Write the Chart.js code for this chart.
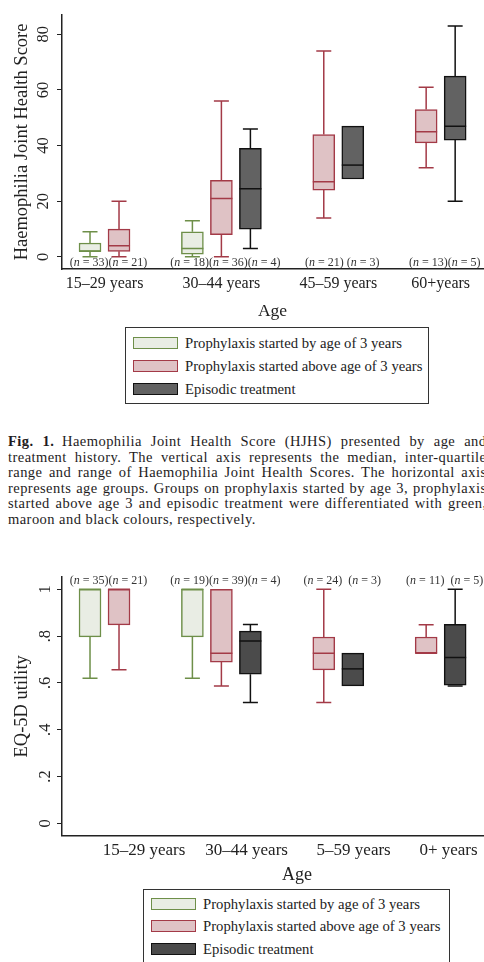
<!DOCTYPE html>
<html>
<head>
<meta charset="utf-8">
<script src="https://cdn.jsdelivr.net/npm/chart.js@4.4.1/dist/chart.umd.min.js"></script>
<style>
  html, body { margin: 0; padding: 0; background: #fff; }
  body { width: 484px; height: 962px; position: relative; overflow: hidden;
         font-family: "Liberation Serif", "Times New Roman", serif; color: #222; }
  .panel { position: absolute; left: 0; }
  .legend { position: absolute; border: 1px solid #333; background: #fff; box-sizing: border-box; }
  .legend .row { position: absolute; display: flex; align-items: center; font-size: 14.7px; white-space: nowrap; color: #222; }
  .legend .sw { width: 45px; height: 12px; box-sizing: border-box; border: 1.5px solid; margin-right: 7px; }
  .caption { position: absolute; left: 8px; top: 434px; width: 478.5px; font-size: 14.5px; letter-spacing: 0.45px;
             line-height: 15.6px; color: #1e1c1d; }
  .caption div { text-align: justify; text-align-last: justify; }
  .caption div.last { text-align-last: left; }
</style>
</head>
<body>
<div class="panel" style="top:0"><canvas id="hjhs" width="484" height="330"></canvas></div>
<div class="legend" id="legend1" style="left:125px;top:327px;width:304px;height:77px"></div>

<div class="caption">
  <div><b>Fig. 1.</b>&ensp;Haemophilia Joint Health Score (HJHS) presented by age and</div>
  <div>treatment history. The vertical axis represents the median, inter-quartile</div>
  <div>range and range of Haemophilia Joint Health Scores. The horizontal axis</div>
  <div>represents age groups. Groups on prophylaxis started by age 3, prophylaxis</div>
  <div>started above age 3 and episodic treatment were differentiated with green,</div>
  <div class="last">maroon and black colours, respectively.</div>
</div>

<div class="panel" style="top:560px"><canvas id="eq5d" width="484" height="330"></canvas></div>
<div class="legend" id="legend2" style="left:143px;top:889px;width:307px;height:82px"></div>

<script>
// ---- categories and series ----
const ageGroups = ['15–29 years', '30–44 years', '45–59 years', '60+years'];
const eqAgeLabels = ['15–29 years', '30–44 years', '5–59 years', '0+ years'];
const seriesNames = [
  'Prophylaxis started by age of 3 years',
  'Prophylaxis started above age of 3 years',
  'Episodic treatment'
];

// HJHS, prophylaxis started by age 3
const hjhsEarlyMin = [0, 0, null, null];
const hjhsEarlyQ1 = [2, 1, null, null];
const hjhsEarlyMedian = [2, 3, null, null];
const hjhsEarlyQ3 = [5, 9, null, null];
const hjhsEarlyMax = [9, 13, null, null];
const hjhsEarlyN = [33, 18, null, null];
// HJHS, prophylaxis started above age 3
const hjhsLateMin = [0, 0, 14, 32];
const hjhsLateQ1 = [2, 8, 24, 41];
const hjhsLateMedian = [4, 21, 27, 45];
const hjhsLateQ3 = [10, 27.5, 44, 53];
const hjhsLateMax = [20, 56, 74, 61];
const hjhsLateN = [21, 36, 21, 13];
// HJHS, episodic treatment
const hjhsEpisodicMin = [null, 3, 28, 20];
const hjhsEpisodicQ1 = [null, 10, 28, 42];
const hjhsEpisodicMedian = [null, 24.5, 33, 47];
const hjhsEpisodicQ3 = [null, 39, 47, 65];
const hjhsEpisodicMax = [null, 46, 47, 83];
const hjhsEpisodicN = [null, 4, 3, 5];
const hjhsTicks = [0, 20, 40, 60, 80];

// EQ-5D utility, prophylaxis started by age 3
const eqEarlyMin = [0.62, 0.62, null, null];
const eqEarlyQ1 = [0.797, 0.797, null, null];
const eqEarlyMedian = [1, 1, null, null];
const eqEarlyQ3 = [1, 1, null, null];
const eqEarlyMax = [1, 1, null, null];
const eqEarlyN = [35, 19, null, null];
// EQ-5D utility, prophylaxis started above age 3
const eqLateMin = [0.656, 0.587, 0.516, 0.727];
const eqLateQ1 = [0.848, 0.689, 0.656, 0.727];
const eqLateMedian = [1, 0.727, 0.727, 0.727];
const eqLateQ3 = [1, 1, 0.796, 0.796];
const eqLateMax = [1, 1, 1, 0.848];
const eqLateN = [21, 39, 24, 11];
// EQ-5D utility, episodic treatment
const eqEpisodicMin = [null, 0.516, 0.587, 0.587];
const eqEpisodicQ1 = [null, 0.637, 0.587, 0.59];
const eqEpisodicMedian = [null, 0.779, 0.66, 0.709];
const eqEpisodicQ3 = [null, 0.821, 0.727, 0.85];
const eqEpisodicMax = [null, 0.85, 0.727, 1];
const eqEpisodicN = [null, 4, 3, 5];
const eqTicks = [0, 0.2, 0.4, 0.6, 0.8, 1];

// ---- styling ----
const FONT = '"Liberation Serif", "Times New Roman", serif';
const INK = '#222';
const boxStyles = [
  { fill: '#e9ede4', line: '#6e8f49' },
  { fill: '#dfc2c5', line: '#a33a47' },
  { fill: '#626262', line: '#111111' }
];
const boxStylesDark = [boxStyles[0], boxStyles[1], { fill: '#4b4b4b', line: '#111111' }];

// ---- box placement: boxes of a group sit side by side, empty series are skipped ----
const GROUP_GAP = 2.53;   // distance between last box of a group and first box of the next
function placeBoxes(q1Lists) {
  const pos = [], centers = [];
  let u = 0;
  for (let g = 0; g < ageGroups.length; g++) {
    const row = [], used = [];
    q1Lists.forEach((list, s) => {
      if (list[g] == null) { row[s] = null; return; }
      row[s] = u; used.push(u); u += 1;
    });
    u = used[used.length - 1] + GROUP_GAP;
    pos.push(row);
    centers.push(used.reduce((a, b) => a + b, 0) / used.length);
  }
  return { pos, centers };
}

function buildDatasets(series, layout, styles) {
  return series.map((s, si) => {
    const data = [];
    s.q1.forEach((q, g) => {
      if (q == null) return;
      data.push({ x: layout.pos[g][si], y: [s.q1[g], s.q3[g]],
                  min: s.min[g], med: s.med[g], max: s.max[g] });
    });
    return {
      label: seriesNames[si], data,
      backgroundColor: styles[si].fill, borderColor: styles[si].line,
      borderWidth: 1.5, borderSkipped: false, barThickness: 22, grouped: false
    };
  });
}

// whiskers, caps and median lines drawn on top of the boxes
const boxWhiskers = {
  id: 'boxWhiskers',
  afterDatasetsDraw(chart) {
    const { ctx } = chart;
    const yScale = chart.scales.y;
    chart.data.datasets.forEach((ds, di) => {
      const meta = chart.getDatasetMeta(di);
      meta.data.forEach((bar, i) => {
        const r = ds.data[i];
        const half = bar.width / 2;
        const capHalf = 7.5;
        const yMin = yScale.getPixelForValue(r.min);
        const yMax = yScale.getPixelForValue(r.max);
        const yQ1 = yScale.getPixelForValue(r.y[0]);
        const yQ3 = yScale.getPixelForValue(r.y[1]);
        const yMed = yScale.getPixelForValue(r.med);
        ctx.save();
        ctx.strokeStyle = ds.borderColor;
        ctx.lineWidth = 1.5;
        ctx.beginPath();
        if (r.max > r.y[1]) {
          ctx.moveTo(bar.x, yQ3); ctx.lineTo(bar.x, yMax);
          ctx.moveTo(bar.x - capHalf, yMax); ctx.lineTo(bar.x + capHalf, yMax);
        }
        if (r.min < r.y[0]) {
          ctx.moveTo(bar.x, yQ1); ctx.lineTo(bar.x, yMin);
          ctx.moveTo(bar.x - capHalf, yMin); ctx.lineTo(bar.x + capHalf, yMin);
        }
        ctx.moveTo(bar.x - half, yMed); ctx.lineTo(bar.x + half, yMed);
        ctx.stroke();
        ctx.restore();
      });
    });
  }
};

// "(n = ..)" group sizes written along one line per group
const groupSizes = {
  id: 'groupSizes',
  afterDraw(chart, args, opts) {
    const { ctx } = chart;
    const xScale = chart.scales.x;
    ctx.save();
    ctx.fillStyle = '#333';
    ctx.textBaseline = 'middle';
    const roman = '12px ' + FONT, italic = 'italic 12px ' + FONT;
    opts.counts.forEach((parts, g) => {
      const pieces = [];
      parts.forEach((n) => {
        if (n == null) return;
        if (pieces.length) pieces.push([opts.seps[g], roman]);
        pieces.push(['(', roman], ['n', italic], [' = ' + n + ')', roman]);
      });
      let total = 0;
      pieces.forEach(p => { ctx.font = p[1]; total += ctx.measureText(p[0]).width; });
      let x = xScale.getPixelForValue(opts.centers[g]) + opts.shift - total / 2;
      pieces.forEach(p => { ctx.font = p[1]; ctx.textAlign = 'left'; ctx.fillText(p[0], x, opts.y); x += ctx.measureText(p[0]).width; });
    });
    ctx.restore();
  }
};

// free-standing axis caption at a given canvas position
const freeCaption = {
  id: 'freeCaption',
  afterDraw(chart, args, opts) {
    if (!opts.text) return;
    const { ctx } = chart;
    ctx.save();
    ctx.font = opts.size + 'px ' + FONT;
    ctx.fillStyle = INK;
    ctx.textAlign = 'center';
    ctx.textBaseline = 'middle';
    ctx.fillText(opts.text, opts.x, opts.y);
    ctx.restore();
  }
};

function makeBoxChart(canvasId, cfg) {
  const layout = cfg.layout;
  return new Chart(document.getElementById(canvasId), {
    type: 'bar',
    data: { datasets: buildDatasets(cfg.series, layout, cfg.styles) },
    plugins: [boxWhiskers, groupSizes, freeCaption],
    options: {
      responsive: false,
      animation: false,
      layout: { padding: { top: cfg.top, right: 1, left: 0, bottom: 0 } },
      plugins: {
        legend: { display: false },
        tooltip: { enabled: false },
        groupSizes: { counts: cfg.counts, centers: layout.centers, y: cfg.countsY, shift: 4, seps: cfg.countSeps },
        freeCaption: cfg.freeTitle || {}
      },
      scales: {
        x: {
          type: 'linear',
          offset: false,
          min: -0.966, max: 13.55,
          afterBuildTicks: s => { s.ticks = cfg.xTickValues.map(v => ({ value: v })); },
          afterFit: s => { s.height = cfg.xAxisHeight; },
          grid: { display: false, drawTicks: false },
          border: { display: true, color: INK, width: 1.5 },
          ticks: {
            autoSkip: false, maxRotation: 0, minRotation: 0, padding: cfg.xTickPad,
            color: INK, font: { family: FONT, size: cfg.xTickSize },
            callback: (v, i) => cfg.xLabels[i]
          },
          title: {
            display: !cfg.freeTitle, text: 'Age', color: INK,
            font: { family: FONT, size: 17.5 }, padding: { top: 0, bottom: 8 }
          }
        },
        y: {
          min: cfg.yMin, max: cfg.yMax,
          afterBuildTicks: s => { s.ticks = cfg.yTicks.map(v => ({ value: v })); },
          afterFit: s => { s.width = 62; },
          grid: { display: true, drawOnChartArea: false, drawTicks: true, tickLength: 5, color: INK, lineWidth: 1 },
          border: { display: true, color: INK, width: 1.5 },
          ticks: {
            minRotation: 90, maxRotation: 90, crossAlign: 'center', padding: 5,
            color: INK, font: { family: FONT, size: 16.5 },
            callback: cfg.yFormat
          },
          title: {
            display: true, text: cfg.yTitle, color: INK,
            font: { family: FONT, size: 18.5 }, padding: { top: 11, bottom: 0 }
          }
        }
      }
    }
  });
}

// ---- HJHS panel ----
const hjhsSeries = [
  { min: hjhsEarlyMin, q1: hjhsEarlyQ1, med: hjhsEarlyMedian, q3: hjhsEarlyQ3, max: hjhsEarlyMax },
  { min: hjhsLateMin, q1: hjhsLateQ1, med: hjhsLateMedian, q3: hjhsLateQ3, max: hjhsLateMax },
  { min: hjhsEpisodicMin, q1: hjhsEpisodicQ1, med: hjhsEpisodicMedian, q3: hjhsEpisodicQ3, max: hjhsEpisodicMax }
];
const hjhsLayout = placeBoxes(hjhsSeries.map(s => s.q1));
makeBoxChart('hjhs', {
  series: hjhsSeries, layout: hjhsLayout, styles: boxStyles,
  counts: ageGroups.map((_, g) => [hjhsEarlyN[g], hjhsLateN[g], hjhsEpisodicN[g]]),
  countsY: 263, countSeps: ['', '', ' ', ''],
  top: 12, yMin: -4.36, yMax: 87, yTicks: hjhsTicks, yFormat: v => String(v),
  yTitle: 'Haemophilia Joint Health Score',
  xTickValues: hjhsLayout.centers, xLabels: ageGroups, xTickSize: 16, xTickPad: 5, xAxisHeight: 61
});

// ---- EQ-5D panel ----
const eqSeries = [
  { min: eqEarlyMin, q1: eqEarlyQ1, med: eqEarlyMedian, q3: eqEarlyQ3, max: eqEarlyMax },
  { min: eqLateMin, q1: eqLateQ1, med: eqLateMedian, q3: eqLateQ3, max: eqLateMax },
  { min: eqEpisodicMin, q1: eqEpisodicQ1, med: eqEpisodicMedian, q3: eqEpisodicQ3, max: eqEpisodicMax }
];
const eqLayout = placeBoxes(eqSeries.map(s => s.q1));
makeBoxChart('eq5d', {
  series: eqSeries, layout: eqLayout, styles: boxStylesDark,
  counts: ageGroups.map((_, g) => [eqEarlyN[g], eqLateN[g], eqEpisodicN[g]]),
  countsY: 21, countSeps: ['', '', '  ', '  '],
  top: 17, yMin: -0.053, yMax: 1.0526, yTicks: eqTicks,
  yFormat: v => v === 0 ? '0' : v === 1 ? '1' : String(v).replace(/^0/, ''),
  yTitle: 'EQ-5D utility',
  xTickValues: [1.86, 5.4, 9.09, 12.36], xLabels: eqAgeLabels, xTickSize: 17, xTickPad: 5, xAxisHeight: 54.3,
  freeTitle: { text: 'Age', x: 297, y: 315, size: 18 }
});

// ---- legends ----
function buildLegend(id, styles, rowsY) {
  const box = document.getElementById(id);
  seriesNames.forEach((name, i) => {
    const row = document.createElement('div');
    row.className = 'row';
    row.style.left = '7px';
    row.style.top = (rowsY[i] - 8) + 'px';
    row.style.height = '16px';
    const sw = document.createElement('span');
    sw.className = 'sw';
    sw.style.background = styles[i].fill;
    sw.style.borderColor = styles[i].line;
    const label = document.createElement('span');
    label.textContent = name;
    row.appendChild(sw); row.appendChild(label);
    box.appendChild(row);
  });
}
buildLegend('legend1', boxStyles, [15, 38, 61]);
buildLegend('legend2', boxStylesDark, [14, 36, 59]);
</script>
</body>
</html>
